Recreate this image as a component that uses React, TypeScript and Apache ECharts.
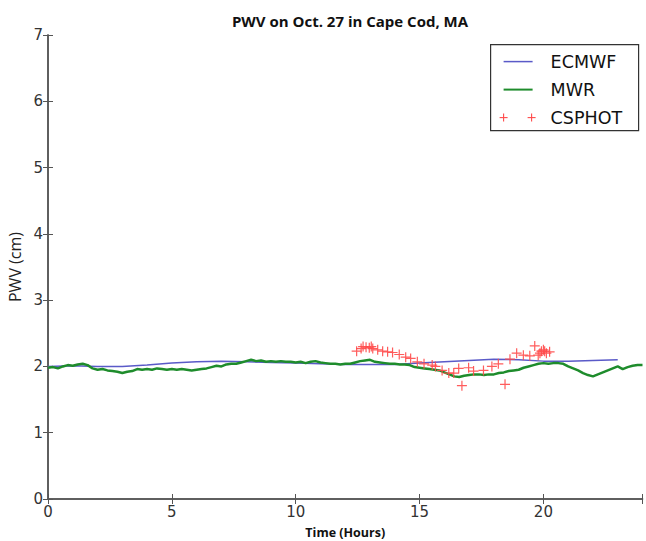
import React, { useEffect, useRef } from "react";
import * as echarts from "echarts";

const ecmwfTime = [0,1,2,3,4,5,6,7,8,9,10,11,12,13,14,15,16,17,18,19,20,21,22,23];
const ecmwfPwv = [2.0,2.01,2.0,2.0,2.02,2.05,2.07,2.08,2.07,2.06,2.05,2.04,2.03,2.03,2.03,2.05,2.07,2.09,2.11,2.1,2.08,2.08,2.09,2.1];

const mwrTime = [0,0.2,0.4,0.6,0.8,1,1.2,1.4,1.6,1.8,2,2.2,2.4,2.6,2.8,3,3.2,3.4,3.6,3.8,4,4.2,4.4,4.6,4.8,5,5.2,5.4,5.6,5.8,6,6.2,6.4,6.6,6.8,7,7.2,7.4,7.6,7.8,8,8.2,8.4,8.6,8.8,9,9.2,9.4,9.6,9.8,10,10.2,10.4,10.6,10.8,11,11.2,11.4,11.6,11.8,12,12.2,12.4,12.6,12.8,13,13.2,13.4,13.6,13.8,14,14.2,14.4,14.6,14.8,15,15.2,15.4,15.6,15.8,16,16.2,16.4,16.6,16.8,17,17.2,17.4,17.6,17.8,18,18.2,18.4,18.6,18.8,19,19.2,19.4,19.6,19.8,20,20.2,20.4,20.6,20.8,21,21.2,21.4,21.6,21.8,22,22.2,22.4,22.6,22.8,23,23.2,23.4,23.6,23.8,24];
const mwrPwv = [1.98,1.99,1.97,2.0,2.02,2.01,2.03,2.04,2.02,1.97,1.95,1.96,1.94,1.93,1.92,1.9,1.92,1.93,1.96,1.95,1.96,1.95,1.97,1.96,1.95,1.96,1.95,1.96,1.95,1.94,1.95,1.96,1.97,1.99,2.01,2.0,2.03,2.04,2.04,2.06,2.08,2.1,2.08,2.09,2.07,2.08,2.07,2.08,2.07,2.07,2.06,2.07,2.05,2.07,2.08,2.06,2.05,2.04,2.04,2.03,2.04,2.04,2.06,2.08,2.09,2.1,2.07,2.06,2.05,2.04,2.04,2.03,2.03,2.02,1.99,1.98,1.97,1.96,1.95,1.94,1.91,1.88,1.85,1.84,1.86,1.87,1.88,1.88,1.87,1.88,1.88,1.9,1.91,1.93,1.94,1.95,1.98,2.0,2.02,2.04,2.05,2.04,2.05,2.05,2.04,2.0,1.97,1.94,1.9,1.87,1.85,1.88,1.91,1.94,1.97,2.0,1.96,1.99,2.01,2.02,2.02];

const csphotTime = [12.46,12.64,12.72,12.84,12.97,13.05,13.11,13.31,13.51,13.71,13.91,14.18,14.44,14.64,14.91,15.18,15.51,15.64,15.91,16.18,16.38,16.58,16.71,16.98,17.18,17.58,17.92,18.18,18.45,18.65,18.92,19.19,19.45,19.65,19.79,19.86,19.92,20.0,20.05,20.12,20.25];
const csphotPwv = [2.23,2.27,2.3,2.29,2.28,2.3,2.27,2.25,2.23,2.22,2.21,2.18,2.14,2.12,2.07,2.04,2.02,2.0,1.94,1.9,1.9,1.97,1.71,1.98,1.93,1.94,2.0,2.04,1.73,2.11,2.2,2.17,2.16,2.31,2.17,2.2,2.23,2.25,2.23,2.2,2.22];

const xTicks = { min: 0, max: 24, interval: 5 };
const yTicks = { min: 0, max: 7, interval: 1 };

const BLUE = "#5a5ac8";
const GREEN = "#1e8c2c";
const RED = "#ff4a4a";
const FRAME = "#555555";
const PLUS = "path://M4.4,0 H5.6 V4.4 H10 V5.6 H5.6 V10 H4.4 V5.6 H0 V4.4 H4.4 Z";

export default function App() {
  const ref = useRef<HTMLDivElement>(null);
  useEffect(() => {
    if (!ref.current) return;
    const chart = echarts.init(ref.current, undefined, { renderer: "svg" });
    const tickCommon = { show: true, inside: true, length: 5, lineStyle: { color: FRAME, width: 1 } };
    const lineCommon = { show: true, lineStyle: { color: FRAME, width: 1.5 } };
    chart.setOption({
      animation: false,
      backgroundColor: "#ffffff",
      title: {
        text: "PWV on Oct. 27 in Cape Cod, MA",
        left: 345,
        top: 8,
        textAlign: "center",
        textStyle: { fontFamily: "Open Sans", fontWeight: "bold", fontSize: 15, color: "#111" },
      },
      grid: { left: 48, right: 3.5, top: 35, bottom: 42, containLabel: false, outerBoundsMode: "none" },
      xAxis: [
        {
          type: "value",
          ...xTicks,
          position: "bottom",
          axisLine: lineCommon,
          axisTick: tickCommon,
          splitLine: { show: false },
          axisLabel: {
            color: "#333",
            fontFamily: "DejaVu Sans",
            fontSize: 15,
            margin: 5,
            formatter: (v: number) => (v === 24 ? "" : String(v)),
          },
          name: "Time (Hours)",
          nameLocation: "middle",
          nameGap: 27,
          nameTextStyle: { fontFamily: "Open Sans", fontWeight: "bold", fontSize: 12.5, color: "#111" },
        },
        {
          type: "value",
          ...xTicks,
          position: "top",
          axisLine: lineCommon,
          axisTick: tickCommon,
          splitLine: { show: false },
          axisLabel: { show: false },
        },
      ],
      yAxis: [
        {
          type: "value",
          ...yTicks,
          position: "left",
          axisLine: lineCommon,
          axisTick: tickCommon,
          splitLine: { show: false },
          axisLabel: { color: "#333", fontFamily: "DejaVu Sans", fontSize: 15, margin: 5 },
          name: "PWV (cm)",
          nameLocation: "middle",
          nameGap: 22,
          nameRotate: 90,
          nameTextStyle: { fontFamily: "Open Sans", fontSize: 16, color: "#222" },
        },
        {
          type: "value",
          ...yTicks,
          position: "right",
          axisLine: lineCommon,
          axisTick: tickCommon,
          splitLine: { show: false },
          axisLabel: { show: false },
        },
      ],
      series: [
        {
          name: "ECMWF",
          type: "line",
          data: ecmwfTime.map((t, i) => [t, ecmwfPwv[i]]),
          showSymbol: false,
          lineStyle: { color: BLUE, width: 1.5 },
          z: 2,
        },
        {
          name: "MWR",
          type: "line",
          data: mwrTime.map((t, i) => [t, mwrPwv[i]]),
          showSymbol: false,
          lineStyle: { color: GREEN, width: 2.5 },
          z: 3,
        },
        {
          name: "CSPHOT",
          type: "scatter",
          data: csphotTime.map((t, i) => [t, csphotPwv[i]]),
          symbol: PLUS,
          symbolSize: 10,
          itemStyle: { color: RED, opacity: 0.9 },
          z: 4,
        },
      ],
      graphic: [
        {
          type: "group",
          left: 490,
          top: 44,
          children: [
            { type: "rect", shape: { x: 0, y: 0, width: 148, height: 86 }, style: { fill: "#fff", stroke: "#333", lineWidth: 1.2 } },
            { type: "line", shape: { x1: 13, y1: 17, x2: 42, y2: 17 }, style: { stroke: BLUE, lineWidth: 1.5 } },
            { type: "text", x: 60, y: 17, style: { text: "ECMWF", fill: "#111", font: "17.5px 'DejaVu Sans'", verticalAlign: "middle" } },
            { type: "line", shape: { x1: 13, y1: 45, x2: 42, y2: 45 }, style: { stroke: GREEN, lineWidth: 2 } },
            { type: "text", x: 60, y: 45, style: { text: "MWR", fill: "#111", font: "17.5px 'DejaVu Sans'", verticalAlign: "middle" } },
            { type: "line", shape: { x1: 9, y1: 73, x2: 17, y2: 73 }, style: { stroke: RED, lineWidth: 1.1 } },
            { type: "line", shape: { x1: 13, y1: 69, x2: 13, y2: 77 }, style: { stroke: RED, lineWidth: 1.1 } },
            { type: "line", shape: { x1: 37, y1: 73, x2: 45, y2: 73 }, style: { stroke: RED, lineWidth: 1.1 } },
            { type: "line", shape: { x1: 41, y1: 69, x2: 41, y2: 77 }, style: { stroke: RED, lineWidth: 1.1 } },
            { type: "text", x: 60, y: 73, style: { text: "CSPHOT", fill: "#111", font: "17.5px 'DejaVu Sans'", verticalAlign: "middle" } },
          ],
        },
      ],
    });
    return () => chart.dispose();
  }, []);
  return <div ref={ref} style={{ width: 646, height: 541, position: "absolute", left: 0, top: 0 }} />;
}
